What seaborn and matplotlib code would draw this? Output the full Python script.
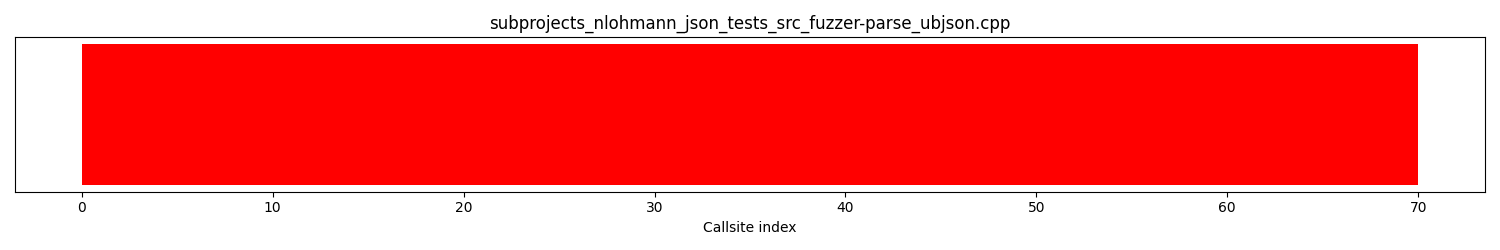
import matplotlib
matplotlib.use("Agg")
import matplotlib.pyplot as plt
import seaborn as sns
import numpy as np
import pandas as pd

title = "subprojects_nlohmann_json_tests_src_fuzzer-parse_ubjson.cpp"
callsite_index = list(range(70))
callsite_height = [1] * 70
callsite_color = ["red"] * 70

df = pd.DataFrame({"idx": [i + 0.5 for i in callsite_index], "h": callsite_height})

fig, ax = plt.subplots(figsize=(15, 2.5), dpi=100)
sns.histplot(data=df, x="idx", weights="h", binwidth=1, binrange=(0, 70), color=callsite_color[0],
             alpha=1.0, linewidth=0, ax=ax, element="bars")
ax.set_title(title)
ax.set_xlabel("Callsite index")
ax.set_ylabel("")
ax.set_yticks([])
ax.set_xticks([0, 10, 20, 30, 40, 50, 60, 70])
ax.set_xlim(-3.5, 73.5)
ax.set_ylim(-0.05, 1.05)
fig.tight_layout()
fig.savefig("out.png")
